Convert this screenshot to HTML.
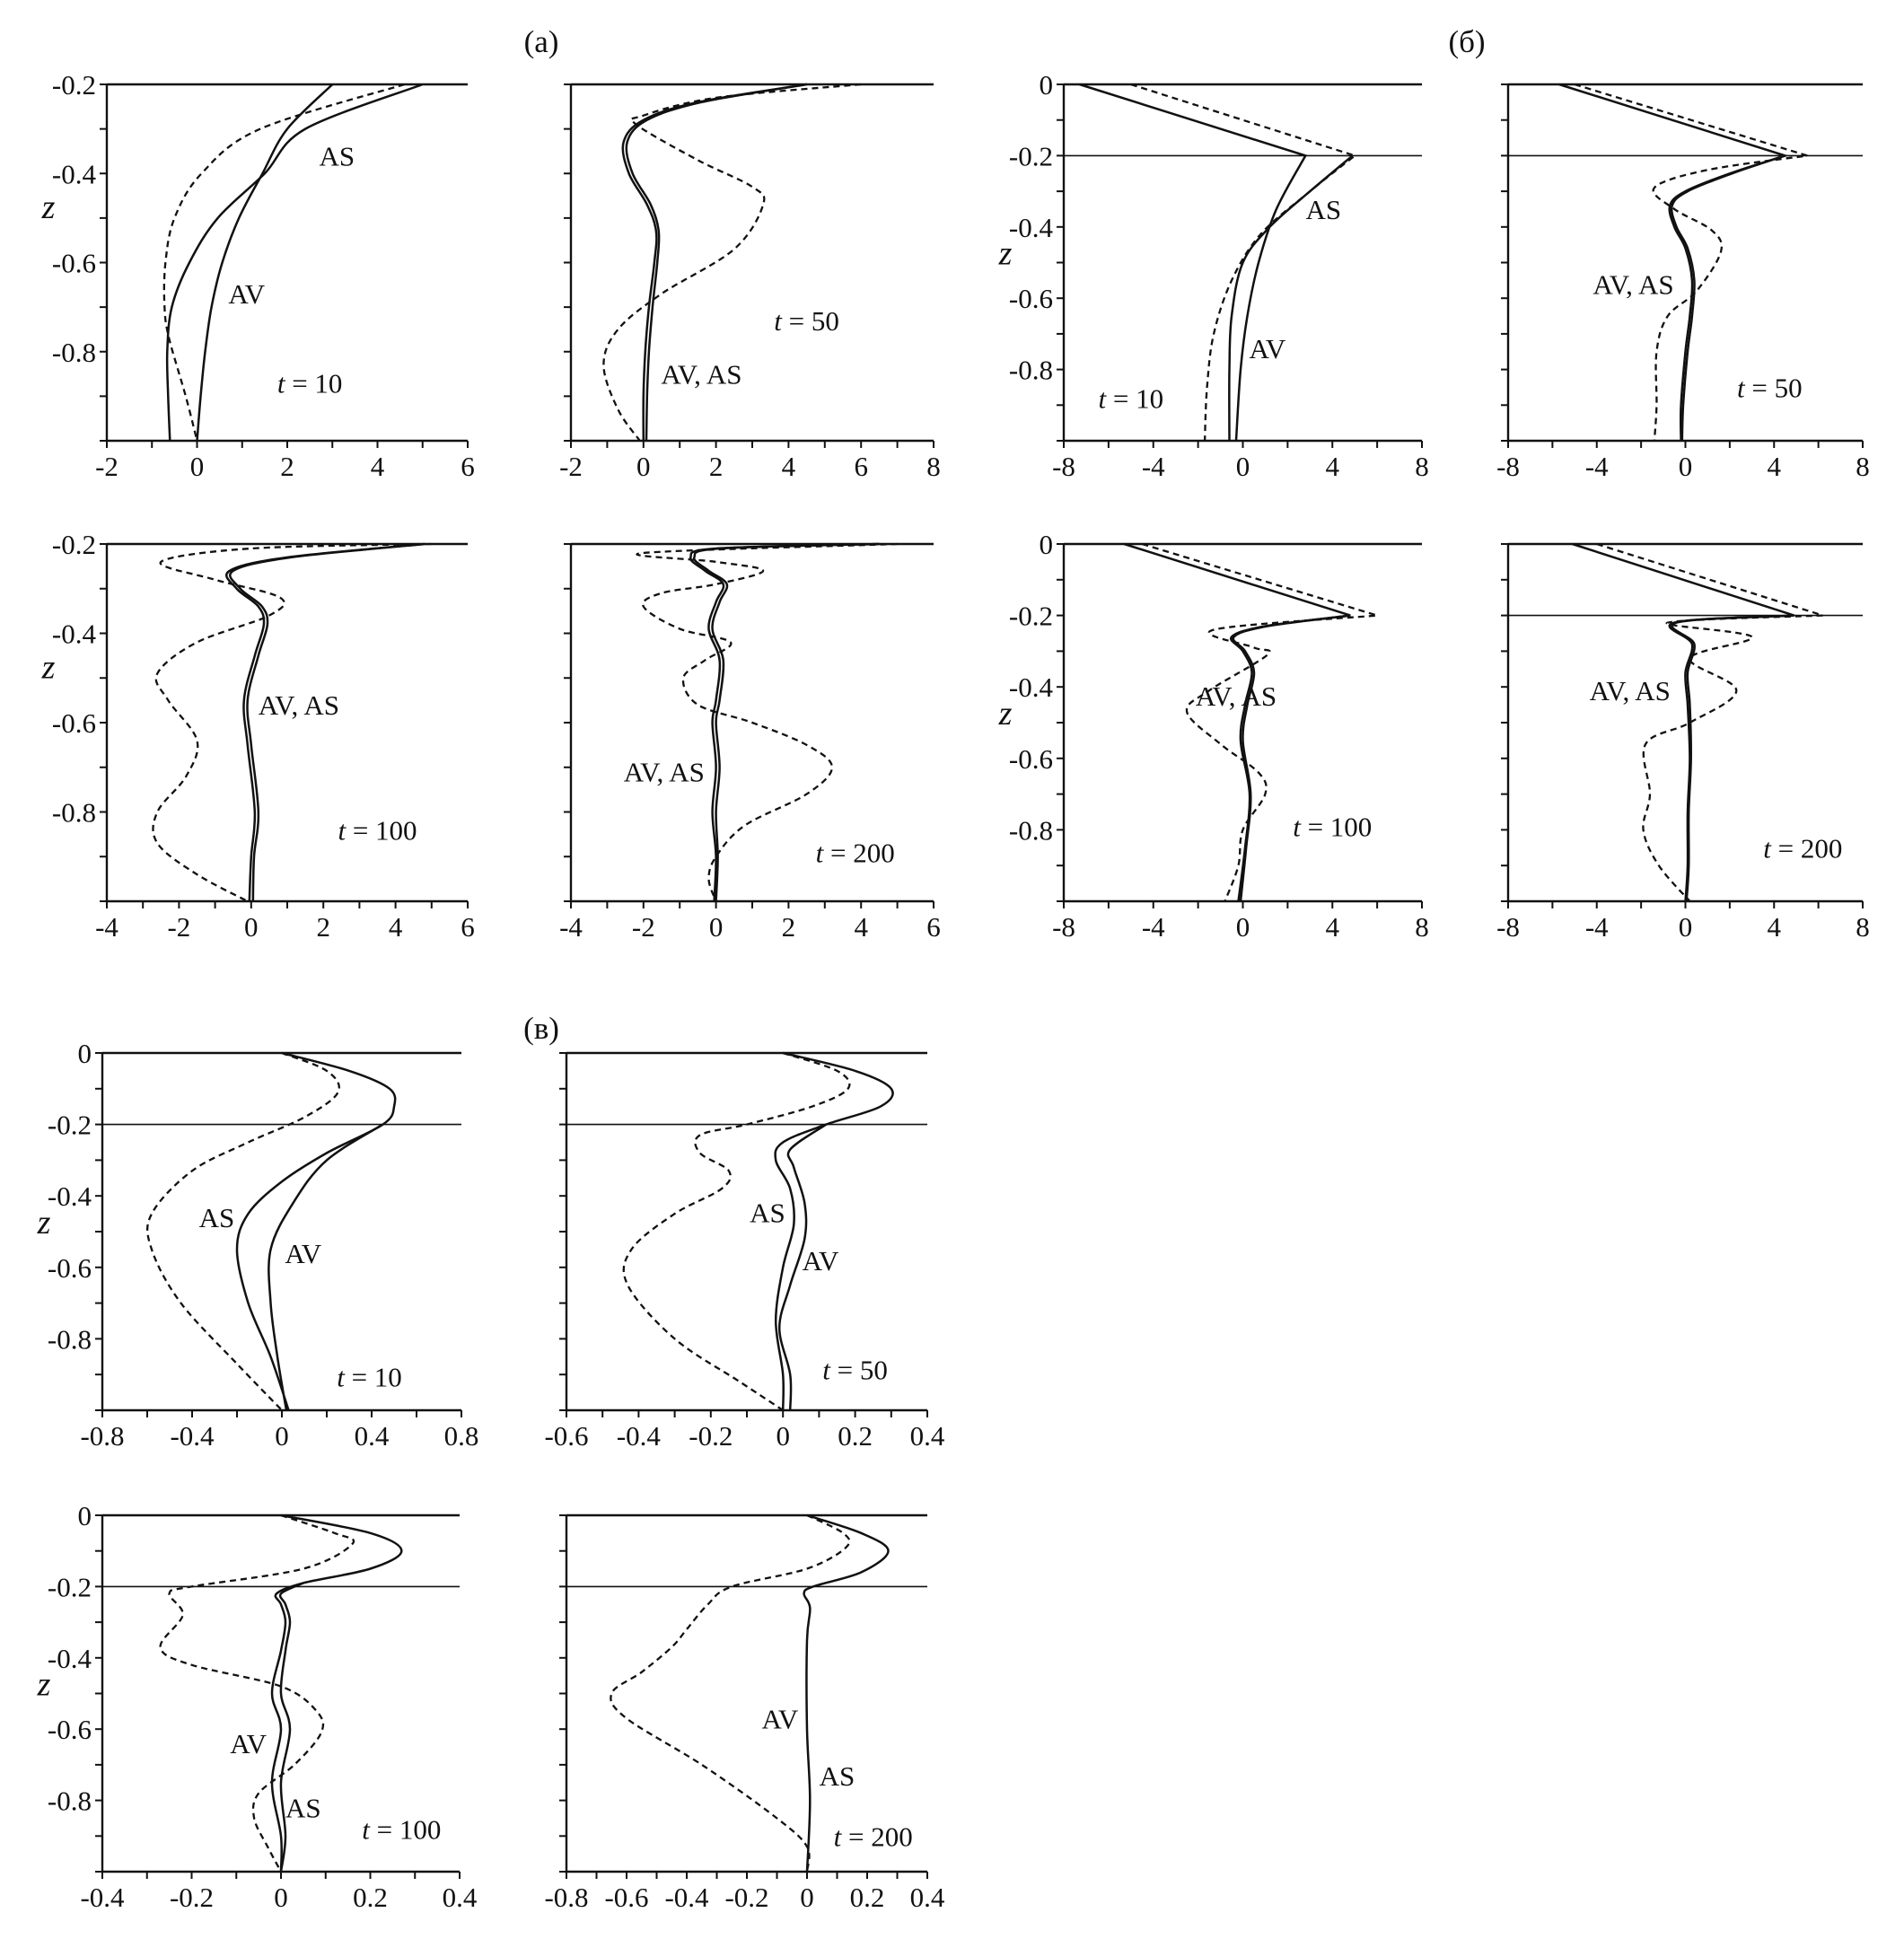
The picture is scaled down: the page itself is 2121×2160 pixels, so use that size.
<!DOCTYPE html>
<html><head><meta charset="utf-8"><style>
html,body{margin:0;padding:0;background:#fff}
svg{display:block}
text{font-family:"Liberation Serif",serif;fill:#111}
</style></head><body>
<svg id="fig" width="2121" height="2160" viewBox="0 0 2121 2160" xmlns="http://www.w3.org/2000/svg"></svg>
<script>
// ---- data arrays (x value, z value pairs) ----
const a1AS=[[5.0,-0.2],[2.4,-0.3],[1.5,-0.4],[0.46,-0.5],[-0.17,-0.6],[-0.56,-0.7],[-0.66,-0.8],[-0.64,-0.9],[-0.6,-1.0]];
const a1AV=[[3.0,-0.2],[2.0,-0.3],[1.45,-0.4],[0.93,-0.5],[0.56,-0.6],[0.32,-0.7],[0.18,-0.8],[0.08,-0.9],[0.0,-1.0]];
const a1D=[[4.6,-0.2],[1.4,-0.3],[0.1,-0.4],[-0.5,-0.5],[-0.7,-0.6],[-0.72,-0.7],[-0.62,-0.77],[-0.25,-0.9],[0.0,-1.0]];
const a2S1=[[4.5,-0.2],[1.5,-0.24],[0,-0.28],[-0.55,-0.33],[-0.4,-0.4],[0.1,-0.47],[0.35,-0.53],[0.3,-0.6],[0.15,-0.7],[0.05,-0.8],[0.0,-0.9],[0.0,-1.0]];
const a2S2=[[4.5,-0.2],[1.6,-0.24],[0.1,-0.28],[-0.45,-0.33],[-0.3,-0.4],[0.2,-0.47],[0.42,-0.53],[0.38,-0.6],[0.25,-0.7],[0.15,-0.8],[0.1,-0.9],[0.08,-1.0]];
const a2D=[[6.0,-0.2],[2.0,-0.23],[0.0,-0.27],[-0.2,-0.29],[1.5,-0.37],[3.0,-0.43],[3.3,-0.47],[2.5,-0.57],[0.5,-0.67],[-0.7,-0.75],[-1.1,-0.83],[-0.7,-0.93],[-0.1,-1.0]];
const a3S1=[[4.8,-0.2],[1.0,-0.23],[-0.6,-0.26],[-0.4,-0.3],[0.2,-0.34],[0.35,-0.38],[0.1,-0.45],[-0.2,-0.55],[-0.1,-0.65],[0.1,-0.8],[0.0,-0.9],[-0.05,-1.0]];
const a3S2=[[4.8,-0.2],[1.1,-0.23],[-0.5,-0.26],[-0.3,-0.3],[0.3,-0.34],[0.45,-0.38],[0.2,-0.45],[-0.1,-0.55],[0.0,-0.65],[0.2,-0.8],[0.08,-0.9],[0.05,-1.0]];
const a3D=[[5.0,-0.2],[0.0,-0.21],[-2.5,-0.24],[-1.0,-0.28],[0.8,-0.32],[0.5,-0.36],[-1.5,-0.42],[-2.6,-0.49],[-2.3,-0.55],[-1.5,-0.64],[-1.8,-0.72],[-2.6,-0.8],[-2.6,-0.87],[-1.5,-0.94],[-0.1,-1.0]];
const a4S1=[[4.5,-0.2],[0.0,-0.21],[-0.7,-0.23],[-0.3,-0.26],[0.2,-0.29],[0.0,-0.33],[-0.2,-0.39],[0.1,-0.46],[0.0,-0.55],[-0.1,-0.6],[0.0,-0.7],[-0.1,-0.8],[0.0,-0.9],[-0.05,-1.0]];
const a4S2=[[4.5,-0.2],[0.1,-0.21],[-0.6,-0.23],[-0.2,-0.26],[0.3,-0.29],[0.1,-0.33],[-0.1,-0.39],[0.2,-0.46],[0.1,-0.55],[0.0,-0.6],[0.1,-0.7],[0.0,-0.8],[0.05,-0.9],[0.0,-1.0]];
const a4D=[[5.0,-0.2],[-2.0,-0.22],[0.0,-0.24],[1.3,-0.26],[0.0,-0.29],[-1.5,-0.31],[-2.0,-0.34],[-1.0,-0.39],[0.4,-0.42],[-0.3,-0.46],[-0.9,-0.5],[-0.5,-0.56],[1.0,-0.6],[2.5,-0.65],[3.2,-0.7],[2.5,-0.76],[0.8,-0.83],[0.0,-0.9],[-0.2,-0.95],[0.0,-1.0]];
const b1AV=[[-7.3,0],[2.8,-0.2],[1.5,-0.35],[0.7,-0.5],[0.2,-0.65],[-0.1,-0.8],[-0.3,-1.0]];
const b1AS=[[4.9,-0.2],[3.0,-0.3],[1.2,-0.4],[0.0,-0.5],[-0.5,-0.65],[-0.6,-0.8],[-0.6,-1.0]];
const b1D=[[-5.0,0],[5.0,-0.2],[3.0,-0.3],[0.8,-0.42],[-0.5,-0.55],[-1.3,-0.7],[-1.6,-0.85],[-1.7,-1.0]];
const b2S1=[[-5.7,0],[4.5,-0.2],[2.0,-0.25],[0.0,-0.3],[-0.7,-0.34],[-0.5,-0.4],[0.0,-0.46],[0.3,-0.55],[0.2,-0.65],[0.0,-0.75],[-0.2,-0.9],[-0.2,-1.0]];
const b2S2=[[4.5,-0.2],[2.1,-0.25],[0.1,-0.3],[-0.6,-0.34],[-0.4,-0.4],[0.1,-0.46],[0.4,-0.55],[0.3,-0.65],[0.1,-0.75],[-0.1,-0.9],[-0.15,-1.0]];
const b2D=[[-5.0,0],[5.5,-0.2],[1.0,-0.24],[-1.4,-0.29],[-0.5,-0.35],[1.2,-0.41],[1.6,-0.47],[0.5,-0.58],[-0.8,-0.65],[-1.3,-0.75],[-1.3,-0.9],[-1.4,-1.0]];
const b3S1=[[-5.3,0],[4.8,-0.2],[1.0,-0.23],[-0.5,-0.26],[0.0,-0.3],[0.4,-0.36],[0.1,-0.45],[-0.1,-0.55],[0.3,-0.7],[0.1,-0.85],[-0.2,-1.0]];
const b3S2=[[4.8,-0.2],[1.1,-0.23],[-0.4,-0.26],[0.1,-0.3],[0.5,-0.36],[0.2,-0.45],[0.0,-0.55],[0.35,-0.7],[0.15,-0.85],[-0.1,-1.0]];
const b3D=[[-4.5,0],[6.0,-0.2],[-1.3,-0.24],[0.5,-0.29],[1.1,-0.31],[-1.5,-0.41],[-2.5,-0.47],[-1.0,-0.56],[0.7,-0.64],[1.0,-0.7],[0.0,-0.8],[-0.2,-0.9],[-0.8,-1.0]];
const b4S1=[[-5.1,0],[4.9,-0.2],[-0.5,-0.22],[0.3,-0.28],[0.0,-0.36],[0.1,-0.45],[0.2,-0.6],[0.1,-0.75],[0.1,-0.9],[0.0,-1.0]];
const b4S2=[[4.9,-0.2],[-0.4,-0.22],[0.4,-0.28],[0.1,-0.36],[0.2,-0.45],[0.25,-0.6],[0.15,-0.75],[0.15,-0.9],[0.05,-1.0]];
const b4D=[[-4.0,0],[6.2,-0.2],[-0.8,-0.22],[3.0,-0.26],[0.2,-0.32],[2.3,-0.41],[0.2,-0.5],[-1.8,-0.56],[-1.6,-0.7],[-1.9,-0.8],[-1.2,-0.9],[0.2,-1.0]];
const v1AS=[[0,0],[0.3,-0.05],[0.48,-0.1],[0.5,-0.15],[0.45,-0.2],[0.2,-0.28],[0.0,-0.36],[-0.15,-0.45],[-0.2,-0.55],[-0.15,-0.7],[-0.05,-0.85],[0.03,-1.0]];
const v1AV=[[0.45,-0.2],[0.2,-0.3],[0.05,-0.42],[-0.05,-0.55],[-0.05,-0.7],[-0.02,-0.85],[0.02,-1.0]];
const v1D=[[0,0],[0.2,-0.05],[0.25,-0.11],[0.1,-0.18],[-0.15,-0.25],[-0.4,-0.33],[-0.58,-0.45],[-0.58,-0.55],[-0.45,-0.7],[-0.2,-0.87],[0.0,-1.0]];
const v2AS=[[0,0],[0.2,-0.05],[0.3,-0.1],[0.27,-0.15],[0.12,-0.2],[0.0,-0.25],[-0.02,-0.3],[0.02,-0.38],[0.03,-0.48],[0.0,-0.6],[-0.02,-0.75],[0.0,-0.9],[0.0,-1.0]];
const v2AV=[[0.12,-0.2],[0.02,-0.27],[0.03,-0.32],[0.06,-0.42],[0.06,-0.52],[0.02,-0.65],[-0.01,-0.77],[0.02,-0.9],[0.02,-1.0]];
const v2D=[[0,0],[0.15,-0.05],[0.18,-0.1],[0.08,-0.15],[-0.1,-0.2],[-0.23,-0.23],[-0.23,-0.28],[-0.15,-0.33],[-0.17,-0.38],[-0.3,-0.45],[-0.42,-0.55],[-0.43,-0.65],[-0.3,-0.8],[-0.12,-0.92],[0.0,-1.0]];
const v3S1=[[0,0],[0.2,-0.05],[0.27,-0.1],[0.2,-0.15],[0.05,-0.19],[-0.01,-0.22],[0.0,-0.25],[0.01,-0.3],[0.0,-0.38],[-0.02,-0.5],[0.0,-0.6],[-0.02,-0.75],[0.0,-0.9],[0.0,-1.0]];
const v3S2=[[0.05,-0.19],[0.0,-0.22],[0.01,-0.25],[0.02,-0.3],[0.01,-0.38],[0.0,-0.5],[0.02,-0.6],[0.0,-0.75],[0.01,-0.9],[0.0,-1.0]];
const v3D=[[0,0],[0.12,-0.05],[0.16,-0.08],[0.05,-0.15],[-0.2,-0.2],[-0.25,-0.22],[-0.22,-0.28],[-0.27,-0.37],[-0.2,-0.42],[0.0,-0.48],[0.08,-0.55],[0.09,-0.61],[0.03,-0.7],[-0.05,-0.78],[-0.06,-0.85],[-0.03,-0.93],[0.0,-1.0]];
const v4S1=[[0,0],[0.18,-0.05],[0.27,-0.1],[0.18,-0.16],[0.02,-0.2],[-0.01,-0.22],[0.01,-0.26],[0.0,-0.35],[0.0,-0.6],[0.01,-0.8],[0.0,-1.0]];
const v4D=[[0,0],[0.12,-0.05],[0.13,-0.09],[0.0,-0.15],[-0.25,-0.2],[-0.33,-0.25],[-0.4,-0.32],[-0.45,-0.37],[-0.55,-0.44],[-0.65,-0.5],[-0.6,-0.57],[-0.35,-0.7],[-0.1,-0.85],[0.0,-0.93],[0.0,-1.0]];

// tick label arrays
const xTicksA1=[-2,0,2,4,6], xTicksA2=[-2,0,2,4,6,8], xTicksA34=[-4,-2,0,2,4,6];
const xTicksB=[-8,-4,0,4,8];
const xTicksV1=[-0.8,-0.4,0,0.4,0.8], xTicksV2=[-0.6,-0.4,-0.2,0,0.2,0.4], xTicksV3=[-0.4,-0.2,0,0.2,0.4], xTicksV4=[-0.8,-0.6,-0.4,-0.2,0,0.2,0.4];
const yTicksA=[-0.2,-0.4,-0.6,-0.8], yTicksBV=[0,-0.2,-0.4,-0.6,-0.8];

const NS='http://www.w3.org/2000/svg';
const svg=document.getElementById('fig');
function mk(tag,attrs,parent){const e=document.createElementNS(NS,tag);for(const k in attrs)e.setAttribute(k,attrs[k]);(parent||svg).appendChild(e);return e;}
function fmt(v){if(Math.abs(v)<1e-9)return '0';return String(Math.round(v*10)/10);}
function txt(x,y,s,size,parent,anchor,italic,name){const t=mk('text',{x:x,y:y,'font-size':size,'text-anchor':anchor||'middle'},parent);if(italic)t.setAttribute('font-style','italic');t.textContent=s;


return t;}

function panel(cfg){
  const g=mk('g',{});
  
  
  const X=v=>cfg.x0+(v-cfg.xd[0])/(cfg.xd[1]-cfg.xd[0])*(cfg.x1-cfg.x0);
  const Y=z=>cfg.y0+(z-cfg.yd[0])/(cfg.yd[1]-cfg.yd[0])*(cfg.y1-cfg.y0);
  const ax=mk('path',{d:`M${cfg.x0},${cfg.y0}V${cfg.y1}H${cfg.x1}`,stroke:'#111','stroke-width':2.4,fill:'none'},g);
  
  
  const hl=[cfg.yd[0]].concat(cfg.hlines||[]);
  hl.forEach(z=>{const l=mk('line',{x1:cfg.x0,x2:cfg.x1,y1:Y(z),y2:Y(z),stroke:'#111','stroke-width':z===cfg.yd[0]?2.4:1.6},g);
    
    });
  const xt=cfg.xt;const step=(xt[1]-xt[0])/2;
  for(let v=xt[0];v<=xt[xt.length-1]+1e-9;v+=step){
    const l=mk('line',{x1:X(v),x2:X(v),y1:cfg.y1,y2:cfg.y1+8,stroke:'#111','stroke-width':2},g);
    
    }
  xt.forEach(v=>txt(X(v),cfg.y1+39,fmt(v),31,g,'middle',false,'x-tick-label'));
  for(let z=cfg.yd[0];z>=cfg.yd[1]-1e-9;z-=0.1){const l=mk('line',{x1:cfg.x0-8,x2:cfg.x0,y1:Y(z),y2:Y(z),stroke:'#111','stroke-width':2},g);
    
    }
  cfg.yt.forEach(z=>txt(cfg.x0-12,Y(z)+11,fmt(z),31,g,'end',false,'y-tick-label'));
  if(cfg.zlabel)txt(cfg.x0-65,Y(-0.48)+10,'z',38,g,'middle',true,'y-axis-title');
  cfg.series.forEach(s=>{
    const p=s.d.map(q=>[X(q[0]),Y(q[1])]);
    let d='M'+p[0][0].toFixed(1)+','+p[0][1].toFixed(1);
    for(let i=0;i<p.length-1;i++){
      if(s.corner!==undefined && i<s.corner){d+='L'+p[i+1][0].toFixed(1)+','+p[i+1][1].toFixed(1);continue;}
      const p0=(s.corner!==undefined&&i===s.corner)?p[i]:(p[i-1]||p[i]),p1=p[i],p2=p[i+1],p3=p[i+2]||p2;
      const c1=[p1[0]+(p2[0]-p0[0])/6,p1[1]+(p2[1]-p0[1])/6],c2=[p2[0]-(p3[0]-p1[0])/6,p2[1]-(p3[1]-p1[1])/6];
      d+=`C${c1[0].toFixed(1)},${c1[1].toFixed(1)} ${c2[0].toFixed(1)},${c2[1].toFixed(1)} ${p2[0].toFixed(1)},${p2[1].toFixed(1)}`;
    }
    const path=mk('path',{d:d,fill:'none',stroke:'#111','stroke-width':s.dash?2.3:2.5},g);
    if(s.dash)path.setAttribute('stroke-dasharray','7 5');
    
    
  });
  cfg.labels.forEach(L=>{
    if(L.t){const t=txt(X(L.x),Y(L.z)+11,'',31,g,'middle',false,'time-label');
      const i=mk('tspan',{'font-style':'italic'},t);i.textContent='t';
      const r=mk('tspan',{},t);r.textContent=' = '+L.t;}
    else txt(X(L.x),Y(L.z)+11,L.s,31,g,'middle',false,'curve-label');
  });
}

const r1t=94,r1b=491,r2t=606,r2b=1004,v1t=1173,v1b=1571,v2t=1688,v2b=2085;
txt(603,58,'(a)',35,null,'middle',false,'panel-title-a');
txt(1634,58,'(б)',35,null,'middle',false,'panel-title-b');
txt(603,1157,'(в)',35,null,'middle',false,'panel-title-v');

panel({name:'panel-a-t10',x0:119,x1:521,y0:r1t,y1:r1b,xd:[-2,6],yd:[-0.2,-1],xt:xTicksA1,yt:yTicksA,zlabel:true,
 series:[{d:a1AS,name:'as-curve'},{d:a1AV,name:'av-curve'},{d:a1D,dash:1,name:'dashed-curve'}],
 labels:[{s:'AS',x:3.1,z:-0.36},{s:'AV',x:1.1,z:-0.67},{t:'10',x:2.5,z:-0.87}]});
panel({name:'panel-a-t50',x0:636,x1:1040,y0:r1t,y1:r1b,xd:[-2,8],yd:[-0.2,-1],xt:xTicksA2,yt:[],
 series:[{d:a2S1,name:'av-curve'},{d:a2S2,name:'as-curve'},{d:a2D,dash:1,name:'dashed-curve'}],
 labels:[{s:'AV, AS',x:1.6,z:-0.85},{t:'50',x:4.5,z:-0.73}]});
panel({name:'panel-a-t100',x0:119,x1:521,y0:r2t,y1:r2b,xd:[-4,6],yd:[-0.2,-1],xt:xTicksA34,yt:yTicksA,zlabel:true,
 series:[{d:a3S1,name:'av-curve'},{d:a3S2,name:'as-curve'},{d:a3D,dash:1,name:'dashed-curve'}],
 labels:[{s:'AV, AS',x:1.32,z:-0.56},{t:'100',x:3.5,z:-0.84}]});
panel({name:'panel-a-t200',x0:636,x1:1040,y0:r2t,y1:r2b,xd:[-4,6],yd:[-0.2,-1],xt:xTicksA34,yt:[],
 series:[{d:a4S1,name:'av-curve'},{d:a4S2,name:'as-curve'},{d:a4D,dash:1,name:'dashed-curve'}],
 labels:[{s:'AV, AS',x:-1.43,z:-0.71},{t:'200',x:3.84,z:-0.89}]});

panel({name:'panel-b-t10',x0:1185,x1:1584,y0:r1t,y1:r1b,xd:[-8,8],yd:[0,-1],xt:xTicksB,yt:yTicksBV,zlabel:true,hlines:[-0.2],
 series:[{d:b1AV,corner:1,name:'av-curve'},{d:b1AS,name:'as-curve'},{d:b1D,dash:1,corner:1,name:'dashed-curve'}],
 labels:[{s:'AS',x:3.6,z:-0.35},{s:'AV',x:1.1,z:-0.74},{t:'10',x:-5,z:-0.88}]});
panel({name:'panel-b-t50',x0:1680,x1:2075,y0:r1t,y1:r1b,xd:[-8,8],yd:[0,-1],xt:xTicksB,yt:[],hlines:[-0.2],
 series:[{d:b2S1,corner:1,name:'av-curve'},{d:b2S2,name:'as-curve'},{d:b2D,dash:1,corner:1,name:'dashed-curve'}],
 labels:[{s:'AV, AS',x:-2.35,z:-0.56},{t:'50',x:3.8,z:-0.85}]});
panel({name:'panel-b-t100',x0:1185,x1:1584,y0:r2t,y1:r2b,xd:[-8,8],yd:[0,-1],xt:xTicksB,yt:yTicksBV,zlabel:true,hlines:[-1],
 series:[{d:b3S1,corner:1,name:'av-curve'},{d:b3S2,name:'as-curve'},{d:b3D,dash:1,corner:1,name:'dashed-curve'}],
 labels:[{s:'AV, AS',x:-0.3,z:-0.425},{t:'100',x:4.0,z:-0.79}]});
panel({name:'panel-b-t200',x0:1680,x1:2075,y0:r2t,y1:r2b,xd:[-8,8],yd:[0,-1],xt:xTicksB,yt:[],hlines:[-0.2],
 series:[{d:b4S1,corner:1,name:'av-curve'},{d:b4S2,name:'as-curve'},{d:b4D,dash:1,corner:1,name:'dashed-curve'}],
 labels:[{s:'AV, AS',x:-2.5,z:-0.41},{t:'200',x:5.3,z:-0.85}]});

panel({name:'panel-v-t10',x0:114,x1:514,y0:v1t,y1:v1b,xd:[-0.8,0.8],yd:[0,-1],xt:xTicksV1,yt:yTicksBV,zlabel:true,hlines:[-0.2],
 series:[{d:v1AS,name:'as-curve'},{d:v1AV,name:'av-curve'},{d:v1D,dash:1,name:'dashed-curve'}],
 labels:[{s:'AS',x:-0.29,z:-0.46},{s:'AV',x:0.095,z:-0.56},{t:'10',x:0.39,z:-0.906}]});
panel({name:'panel-v-t50',x0:631,x1:1033,y0:v1t,y1:v1b,xd:[-0.6,0.4],yd:[0,-1],xt:xTicksV2,yt:[],hlines:[-0.2],
 series:[{d:v2AS,name:'as-curve'},{d:v2AV,name:'av-curve'},{d:v2D,dash:1,name:'dashed-curve'}],
 labels:[{s:'AS',x:-0.043,z:-0.446},{s:'AV',x:0.104,z:-0.58},{t:'50',x:0.2,z:-0.886}]});
panel({name:'panel-v-t100',x0:114,x1:512,y0:v2t,y1:v2b,xd:[-0.4,0.4],yd:[0,-1],xt:xTicksV3,yt:yTicksBV,zlabel:true,hlines:[-0.2],
 series:[{d:v3S1,name:'av-curve'},{d:v3S2,name:'as-curve'},{d:v3D,dash:1,name:'dashed-curve'}],
 labels:[{s:'AV',x:-0.073,z:-0.64},{s:'AS',x:0.05,z:-0.82},{t:'100',x:0.27,z:-0.88}]});
panel({name:'panel-v-t200',x0:631,x1:1033,y0:v2t,y1:v2b,xd:[-0.8,0.4],yd:[0,-1],xt:xTicksV4,yt:[],hlines:[-0.2],
 series:[{d:v4S1,name:'av-curve'},{d:v4D,dash:1,name:'dashed-curve'}],
 labels:[{s:'AV',x:-0.09,z:-0.57},{s:'AS',x:0.1,z:-0.73},{t:'200',x:0.22,z:-0.90}]});
</script>
</body></html>
